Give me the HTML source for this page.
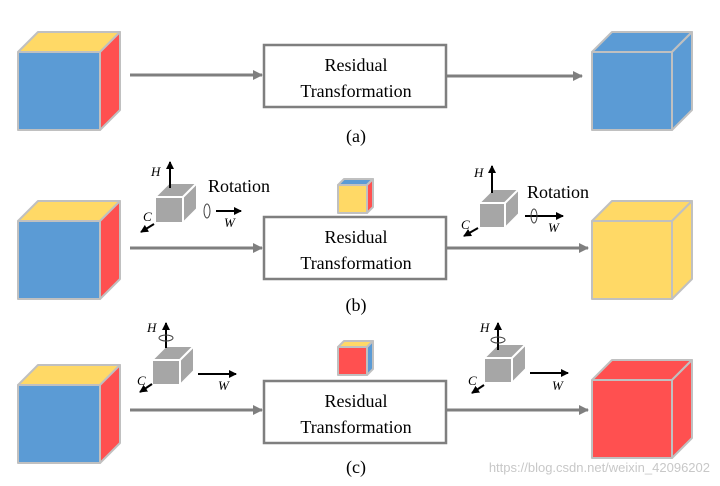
<!DOCTYPE html>
<html><head><meta charset="utf-8"><style>body{margin:0;background:#fff}svg{display:block}text{font-family:"Liberation Serif",serif}</style></head><body>
<svg id="s" width="720" height="486" viewBox="0 0 720 486" xmlns="http://www.w3.org/2000/svg">
<defs>
<marker id="ag" markerWidth="10" markerHeight="10" refX="9" refY="5" orient="auto" markerUnits="userSpaceOnUse"><path d="M0,0 L10,5 L0,10 z" fill="#7f7f7f"/></marker>
<marker id="ab" markerWidth="8" markerHeight="8" refX="7" refY="4" orient="auto" markerUnits="userSpaceOnUse"><path d="M0,0 L8,4 L0,8 z" fill="#000"/></marker>
</defs>
<g id="g"></g>
<g fill="none" stroke="#7f7f7f" stroke-width="3">
<line x1="130" y1="75" x2="262" y2="75" marker-end="url(#ag)"/>
<line x1="446" y1="76" x2="582" y2="76" marker-end="url(#ag)"/>
<line x1="130" y1="248" x2="262" y2="248" marker-end="url(#ag)"/>
<line x1="446" y1="248" x2="588" y2="248" marker-end="url(#ag)"/>
<line x1="130" y1="410" x2="262" y2="410" marker-end="url(#ag)"/>
<line x1="446" y1="410" x2="588" y2="410" marker-end="url(#ag)"/>
</g>
<g fill="#fff" stroke="#7f7f7f" stroke-width="2.5">
<rect x="264" y="45" width="182" height="62"/>
<rect x="264" y="217" width="182" height="62"/>
<rect x="264" y="381" width="182" height="62"/>
</g>
<g font-size="18" text-anchor="middle" fill="#000">
<text x="356" y="71">Residual</text><text x="356" y="97">Transformation</text>
<text x="356" y="243">Residual</text><text x="356" y="269">Transformation</text>
<text x="356" y="407">Residual</text><text x="356" y="433">Transformation</text>
<text x="356" y="142">(a)</text><text x="356" y="311">(b)</text><text x="356" y="473">(c)</text>
</g>
<g font-size="18"><text x="208" y="192">Rotation</text><text x="527" y="198">Rotation</text></g>
<g stroke="#000" stroke-width="2" fill="none">
<line x1="170" y1="188" x2="170" y2="162" marker-end="url(#ab)"/>
<line x1="154" y1="224" x2="141" y2="232" marker-end="url(#ab)"/>
<line x1="216" y1="211" x2="241" y2="211" marker-end="url(#ab)"/>
<line x1="492" y1="193" x2="492" y2="166" marker-end="url(#ab)"/>
<line x1="478" y1="228" x2="464" y2="236" marker-end="url(#ab)"/>
<line x1="525" y1="216" x2="563" y2="216" marker-end="url(#ab)"/>
<line x1="166" y1="348" x2="166" y2="323" marker-end="url(#ab)"/>
<line x1="152" y1="384" x2="140" y2="392" marker-end="url(#ab)"/>
<line x1="198" y1="374" x2="236" y2="374" marker-end="url(#ab)"/>
<line x1="498" y1="350" x2="498" y2="323" marker-end="url(#ab)"/>
<line x1="484" y1="385" x2="472" y2="393" marker-end="url(#ab)"/>
<line x1="530" y1="373" x2="568" y2="373" marker-end="url(#ab)"/>
</g>
<g stroke="#444" stroke-width="1" fill="none">
<ellipse cx="207" cy="211" rx="3" ry="7"/><ellipse cx="534" cy="216" rx="3" ry="7"/>
<ellipse cx="166" cy="338" rx="7" ry="3"/><ellipse cx="498" cy="340" rx="7" ry="3"/>
</g>
<g font-size="13" font-style="italic">
<text x="151" y="176">H</text><text x="143" y="221">C</text><text x="224" y="227">W</text>
<text x="474" y="177">H</text><text x="461" y="229">C</text><text x="548" y="232">W</text>
<text x="147" y="332">H</text><text x="137" y="385">C</text><text x="218" y="390">W</text>
<text x="480" y="332">H</text><text x="468" y="385">C</text><text x="552" y="390">W</text>
</g>
<text x="710" y="472" text-anchor="end" font-size="13" fill="#c8c8c8" style="font-family:'Liberation Sans',sans-serif">https://blog.csdn.net/weixin_42096202</text>
</svg>
<script>
var g=document.getElementById('g'),h='';
function cube(x,y,w,hh,d,f,t,s,st){st=st||'#c0c0c0';
h+='<g stroke="'+st+'" stroke-width="2" stroke-linejoin="round"><polygon points="'+x+','+y+' '+(x+d)+','+(y-d)+' '+(x+w+d)+','+(y-d)+' '+(x+w)+','+y+'" fill="'+t+'"/><polygon points="'+(x+w)+','+y+' '+(x+w+d)+','+(y-d)+' '+(x+w+d)+','+(y+hh-d)+' '+(x+w)+','+(y+hh)+'" fill="'+s+'"/><rect x="'+x+'" y="'+y+'" width="'+w+'" height="'+hh+'" fill="'+f+'"/></g>';}
var B='#5b9bd5',Y='#ffd966',R='#ff5050',G='#a6a6a6';
cube(18,52,82,78,20,B,Y,R);cube(592,52,80,78,20,B,B,B);
cube(18,221,82,78,20,B,Y,R);cube(592,221,80,78,20,Y,Y,Y);
cube(18,385,82,78,20,B,Y,R);cube(592,380,80,78,20,R,R,R);
cube(338,185,29,28,6,Y,B,R);cube(338,347,29,28,6,R,Y,B);
cube(155,197,28,26,14,G,G,G,'#fff');cube(479,203,26,25,14,G,G,G,'#fff');
cube(152,360,28,25,14,G,G,G,'#fff');cube(484,358,28,25,14,G,G,G,'#fff');
g.innerHTML=h;
</script>
</body></html>
